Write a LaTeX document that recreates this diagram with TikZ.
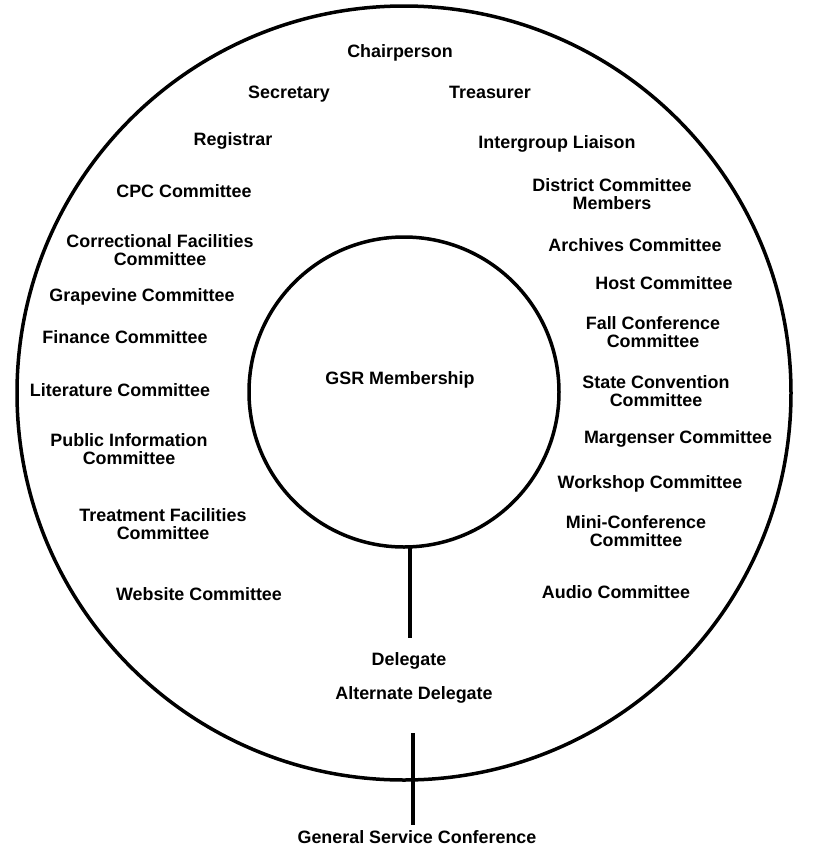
\documentclass[tikz,border=0pt]{standalone}
\usepackage{fontspec}
\newfontfamily\rolefont{Liberation Sans}
\usepackage{tikz}

\tikzset{
  ring/.style={line width=3.5pt},
  link/.style={line width=4pt},
  role/.style={font=\rolefont\bfseries\fontsize{17.9}{18}\selectfont, inner sep=0pt, text height=12.7pt, text depth=0pt},
  role2/.style={font=\rolefont\bfseries\fontsize{17.9}{18}\selectfont, inner sep=0pt, align=center},
}

\begin{document}
\begin{tikzpicture}[x=1pt, y=-1pt]
  \useasboundingbox (0,0) rectangle (814,863);
  % rings: outer = area committee, inner = GSRs
  \draw[ring] (404,393) circle (387);
  \node[ring, draw, circle, minimum size=310pt, inner sep=0pt] (inner) at (404,392) {};
  \node[role] (gsr) at (400,378) {GSR Membership};

  % officers across the top
  \node[role] (chair) at (400,51) {Chairperson};
  \node[role] (secretary) at (289,92) {Secretary};
  \node[role] (treasurer) at (490,92) {Treasurer};
  \node[role] (registrar) at (233,139) {Registrar};
  \node[role] (liaison) at (557,142) {Intergroup Liaison};

  % left side committees
  \node[role] (cpc) at (184,191) {CPC Committee};
  \node[role2] (correct) at (160,250) {Correctional Facilities\\Committee};
  \node[role] (grapevine) at (142,295) {Grapevine Committee};
  \node[role] (finance) at (125,337) {Finance Committee};
  \node[role] (literature) at (120,390) {Literature Committee};
  \node[role2] (pubinfo) at (129,449) {Public Information\\Committee};
  \node[role2] (treatment) at (163,524) {Treatment Facilities\\Committee};
  \node[role] (website) at (199,594) {Website Committee};

  % right side committees
  \node[role2] (dcm) at (612,194) {District Committee\\Members};
  \node[role] (archives) at (635,245) {Archives Committee};
  \node[role] (host) at (664,283) {Host Committee};
  \node[role2] (fall) at (653,332) {Fall Conference\\Committee};
  \node[role2] (statecon) at (656,391) {State Convention\\Committee};
  \node[role] (margenser) at (678,437) {Margenser Committee};
  \node[role] (workshop) at (650,482) {Workshop Committee};
  \node[role2] (miniconf) at (636,531) {Mini-Conference\\Committee};
  \node[role] (audio) at (616,592) {Audio Committee};

  % delegate and conference
  \node[role] (delegate) at (409,659) {Delegate};
  \node[role] (alternate) at (414,693) {Alternate Delegate};
  \node[role] (gsc) at (417,837) {General Service Conference};

  \coordinate (up1) at (410,546);
  \coordinate (dn1) at (410,638);
  \coordinate (up2) at (413,733);
  \coordinate (dn2) at (413,825);
  \draw[link] (up1) -- (dn1);
  \draw[link] (up2) -- (dn2);
\end{tikzpicture}
\end{document}
